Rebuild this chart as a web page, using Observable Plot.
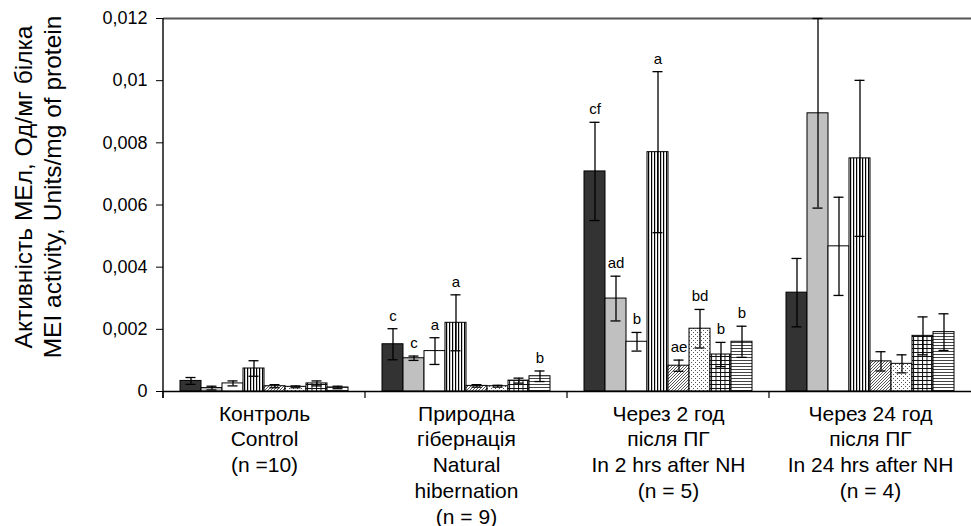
<!DOCTYPE html>
<html>
<head>
<meta charset="utf-8">
<script src="https://cdn.jsdelivr.net/npm/d3@7"></script>
<script src="https://cdn.jsdelivr.net/npm/@observablehq/plot@0.6"></script>
<style>
  body { margin: 0; background: #fff; }
</style>
</head>
<body>
<div id="chart"></div>
<script>
// ---------- data ----------
const groups = ["Контроль", "Природна гібернація", "Через 2 год", "Через 24 год"];
const groupLabels = [
  "Контроль\nControl\n(n =10)",
  "Природна\nгібернація\nNatural\nhibernation\n(n = 9)",
  "Через 2 год\nпісля ПГ\nIn 2 hrs after NH\n(n = 5)",
  "Через 24 год\nпісля ПГ\nIn 24 hrs after NH\n(n = 4)"
];
const series = ["1", "2", "3", "4", "5", "6", "7", "8"];
const means = [
  [0.00034, 0.00011, 0.00026, 0.00074, 0.00017, 0.00015, 0.00026, 0.00013],
  [0.00152, 0.00107, 0.00130, 0.00221, 0.00018, 0.00017, 0.00035, 0.00049],
  [0.00708, 0.00299, 0.00160, 0.00770, 0.00083, 0.00202, 0.00119, 0.00160],
  [0.00318, 0.00895, 0.00467, 0.00750, 0.00097, 0.00089, 0.00179, 0.00191]
];
const errors = [
  [0.00011, 0.00006, 0.00008, 0.00025, 0.00005, 0.00003, 0.00008, 0.00004],
  [0.00050, 0.00007, 0.00043, 0.00090, 0.00004, 0.00003, 0.00008, 0.00017],
  [0.00158, 0.00072, 0.00030, 0.00259, 0.00018, 0.00062, 0.00039, 0.00050],
  [0.00110, 0.00305, 0.00158, 0.00251, 0.00031, 0.00029, 0.00061, 0.00059]
];
const sigLabels = [
  ["", "", "", "", "", "", "", ""],
  ["c", "c", "a", "a", "", "", "", "b"],
  ["cf", "ad", "b", "a", "ae", "bd", "b", "b"],
  ["", "", "", "", "", "", "", ""]
];
const yTicks = [0, 0.002, 0.004, 0.006, 0.008, 0.01, 0.012];
const yTickLabels = ["0", "0,002", "0,004", "0,006", "0,008", "0,01", "0,012"];
const yTitle = "Активність МЕл, Од/мг білка\nMEI activity, Units/mg of protein";

// ---------- styles ----------
const seriesFills = ["#333333", "#c0c0c0", "#ffffff", "url(#pVert)", "url(#pDiag)", "url(#pDots)", "url(#pGrid)", "url(#pHoriz)"];

// ---------- tables ----------
const rows = [];
groups.forEach((g, gi) => series.forEach((s, si) => rows.push({
  group: g, series: s, value: means[gi][si],
  lo: means[gi][si] - errors[gi][si], hi: means[gi][si] + errors[gi][si],
  sig: sigLabels[gi][si]
})));
const groupRows = groups.map((g, i) => ({group: g, label: groupLabels[i]}));

// axis line + category boundary ticks, drawn from the scales in each facet
let firstFacet = true;
function axisFrame(index, scales, values, dimensions) {
  const {marginLeft} = dimensions;
  const y0 = scales.y(0);
  const g = d3.create("svg:g").attr("stroke", "black").attr("stroke-width", 1.2);
  g.append("line").attr("x1", marginLeft).attr("x2", marginLeft).attr("y1", y0).attr("y2", y0 + 7);
  if (firstFacet) {
    g.append("line").attr("x1", marginLeft).attr("x2", marginLeft).attr("y1", scales.y(0.012)).attr("y2", y0 + 7).attr("stroke-width", 1.4);
    firstFacet = false;
  }
  return g.node();
}

const chart = Plot.plot({
  width: 971,
  height: 526,
  marginLeft: 162,
  marginRight: 0,
  marginTop: 18,
  marginBottom: 135,
  style: {fontFamily: "'Liberation Sans', Arial, sans-serif", fontSize: "18px", color: "black", background: "white", overflow: "visible"},
  fx: {domain: groups, padding: 0, axis: null, label: null},
  x: {domain: series, paddingInner: 0, paddingOuter: 0.7, axis: null},
  y: {domain: [0, 0.012], ticks: yTicks, tickFormat: d => yTickLabels[yTicks.indexOf(d)], tickSize: 7, tickPadding: 9, label: null},
  color: {domain: series, range: seriesFills},
  marks: [
    Plot.ruleY([0.012], {stroke: "#555", strokeWidth: 2}),
    Plot.barY(rows, {fx: "group", x: "series", y: "value", fill: "series", stroke: "black", strokeWidth: 1}),
    Plot.ruleX(rows, {fx: "group", x: "series", y1: "lo", y2: "hi", stroke: "black", strokeWidth: 1.3}),
    Plot.tickY(rows, {fx: "group", x: "series", y: "hi", insetLeft: 5.5, insetRight: 5.5, stroke: "black", strokeWidth: 1.3}),
    Plot.tickY(rows, {fx: "group", x: "series", y: "lo", insetLeft: 5.5, insetRight: 5.5, stroke: "black", strokeWidth: 1.3}),
    Plot.text(rows.filter(d => d.sig), {fx: "group", x: "series", y: "hi", text: "sig", lineAnchor: "bottom", dy: -8, fontSize: 15, fill: "black"}),
    Plot.ruleY([0], {stroke: "black", strokeWidth: 1.5}),
    axisFrame,
    Plot.text(groupRows, {fx: "group", text: "label", frameAnchor: "bottom", lineAnchor: "top", dy: 11, fontSize: 21, lineHeight: 1.225, fill: "black"}),
    Plot.text([yTitle], {fx: () => groups[0], text: d => d, frameAnchor: "left", textAnchor: "middle", lineAnchor: "middle", rotate: -90, dx: -126, dy: -18, fontSize: 24.5, lineHeight: 1.17, fill: "black"})
  ]
});

// pattern definitions
const defs = d3.create("svg:defs");
function pattern(id, w, h) {
  const p = defs.append("pattern").attr("id", id).attr("patternUnits", "userSpaceOnUse").attr("width", w).attr("height", h);
  p.append("rect").attr("width", w).attr("height", h).attr("fill", "white");
  return p;
}
pattern("pVert", 3, 3).append("rect").attr("width", 1.2).attr("height", 3).attr("fill", "black");
pattern("pDiag", 3, 3).append("path").attr("d", "M-1,1L1,-1M0,3L3,0M2,4L4,2").attr("stroke", "#444").attr("stroke-width", 0.9);
{ const p = pattern("pDots", 4, 4);
  p.append("rect").attr("x", 0).attr("y", 0).attr("width", 1).attr("height", 1).attr("fill", "#555");
  p.append("rect").attr("x", 2).attr("y", 2).attr("width", 1).attr("height", 1).attr("fill", "#555"); }
{ const p = pattern("pGrid", 4.5, 4);
  p.append("rect").attr("x", 0).attr("width", 1).attr("height", 4).attr("fill", "#111");
  p.append("rect").attr("y", 0).attr("width", 4.5).attr("height", 1).attr("fill", "#111"); }
pattern("pHoriz", 3, 3).append("rect").attr("width", 3).attr("height", 1).attr("fill", "#444");
chart.insertBefore(defs.node(), chart.firstChild);

document.getElementById("chart").appendChild(chart);
</script>
</body>
</html>
